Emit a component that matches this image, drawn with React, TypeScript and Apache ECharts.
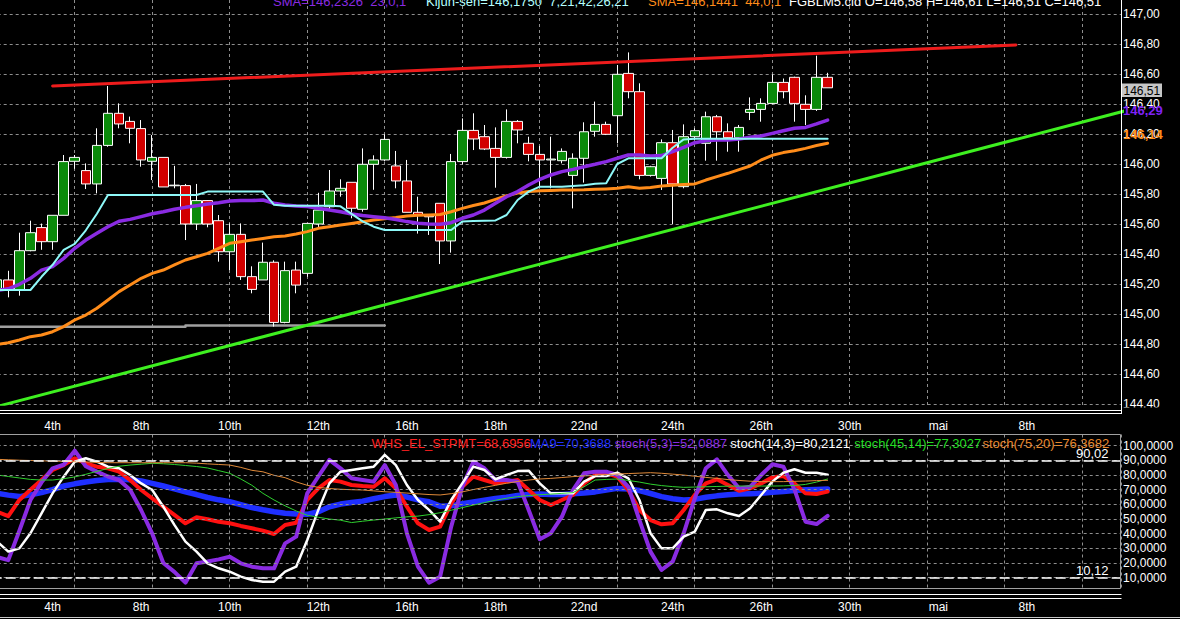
import React, { useEffect, useRef } from "react";
import * as echarts from "echarts";

// ---------------- data ----------------
const categoryCount = 102;
const dateLabelIndex = [5, 13, 21, 29, 37, 45, 53, 61, 69, 77, 85, 93];
const dateLabels = ["4th", "8th", "10th", "12th", "16th", "18th", "22nd", "24th", "26th", "30th", "mai", "8th"];

const opens = [
  145.17, 145.229, 145.162, 145.424, 145.578, 145.484, 145.66, 146.02, 145.958, 145.869,
  146.126, 146.34, 146.286, 146.238, 146.02, 146.046, 145.857, 145.858, 145.602, 145.758,
  145.624, 145.417, 145.533, 145.251, 145.229, 145.347, 144.946, 145.295, 145.273, 145.602,
  145.717, 145.822, 145.88, 145.7, 146.0, 146.029, 145.989, 145.889, 145.68, 145.655,
  145.74, 145.489, 146.018, 146.226, 146.184, 146.106, 146.046, 146.286, 146.14, 146.066,
  146.029, 146.024, 145.926, 146.04, 146.22, 146.266, 146.324, 146.606, 146.484, 145.926,
  145.906, 146.144, 145.851, 146.184, 146.14, 146.317, 146.217, 146.177, 146.346, 146.366,
  146.406, 146.546, 146.58, 146.4, 146.366, 146.58,
];
const closes = [
  145.23, 145.162, 145.424, 145.544, 145.484, 145.66, 146.018, 146.046, 145.869, 146.126,
  146.34, 146.269, 146.24, 146.029, 146.046, 145.849, 145.861, 145.602, 145.758, 145.602,
  145.417, 145.533, 145.251, 145.166, 145.347, 144.946, 145.291, 145.195, 145.606, 145.695,
  145.822, 145.84, 145.707, 146.0, 146.029, 146.166, 145.889, 145.68, 145.662, 145.65,
  145.489, 146.018, 146.226, 146.169, 146.102, 146.046, 146.286, 146.229, 146.066, 146.029,
  146.035, 146.086, 146.04, 146.217, 146.266, 146.2, 146.6, 146.484, 145.926, 145.984,
  146.144, 145.869, 146.184, 146.224, 146.317, 146.217, 146.177, 146.246, 146.366, 146.406,
  146.546, 146.484, 146.406, 146.366, 146.58, 146.51,
];
const lows = [
  145.15, 145.113, 145.124, 145.42, 145.43, 145.43, 145.66, 145.97, 145.835, 145.806,
  146.117, 146.24, 146.14, 145.984, 145.895, 145.849, 145.84, 145.495, 145.562, 145.58,
  145.351, 145.295, 145.229, 145.14, 145.229, 144.918, 144.94, 145.14, 145.25, 145.58,
  145.7, 145.784, 145.64, 145.684, 145.83, 146.02, 145.84, 145.68, 145.538, 145.529,
  145.335, 145.411, 146.0, 146.095, 146.095, 145.844, 146.038, 146.14, 146.02, 145.851,
  145.84, 146.006, 145.706, 145.878, 146.184, 146.195, 146.14, 146.44, 145.9, 145.918,
  145.829, 145.602, 145.84, 146.162, 146.024, 146.024, 146.084, 146.084, 146.295, 146.284,
  146.4, 146.44, 146.284, 146.262, 146.356, 146.51,
];
const highs = [
  145.25, 145.29, 145.544, 145.624, 145.605, 145.66, 146.062, 146.062, 146.006, 146.24,
  146.522, 146.406, 146.318, 146.295, 146.195, 146.046, 145.99, 145.869, 145.869, 145.76,
  145.662, 145.606, 145.606, 145.32, 145.478, 145.36, 145.351, 145.351, 145.606, 145.81,
  145.962, 145.9, 145.88, 146.106, 146.06, 146.2, 146.089, 146.029, 145.784, 145.66,
  145.74, 146.069, 146.306, 146.34, 146.262, 146.246, 146.366, 146.295, 146.184, 146.122,
  146.184, 146.106, 146.073, 146.28, 146.418, 146.284, 146.662, 146.746, 146.54, 145.99,
  146.166, 146.229, 146.266, 146.24, 146.351, 146.329, 146.273, 146.262, 146.446, 146.44,
  146.6, 146.572, 146.584, 146.46, 146.724, 146.61,
];

const sma23 = [
  145.16, 145.17, 145.2, 145.24, 145.295, 145.318, 145.373, 145.44, 145.495, 145.54,
  145.584, 145.62, 145.633, 145.651, 145.67, 145.684, 145.7, 145.713, 145.724, 145.735,
  145.744, 145.755, 145.758, 145.758, 145.762, 145.74, 145.729, 145.722, 145.718, 145.707,
  145.695, 145.684, 145.669, 145.658, 145.651, 145.644, 145.632, 145.618, 145.607, 145.602,
  145.6, 145.611, 145.64, 145.662, 145.695, 145.74, 145.784, 145.818, 145.862, 145.9,
  145.929, 145.951, 145.966, 145.984, 146.0, 146.018, 146.04, 146.062, 146.062, 146.055,
  146.058, 146.084, 146.113, 146.144, 146.157, 146.162, 146.162, 146.169, 146.18, 146.189,
  146.206, 146.224, 146.24, 146.246, 146.269, 146.295,
];
const kijun = [
  145.162, 145.162, 145.162, 145.162, 145.25, 145.33, 145.43, 145.47, 145.56, 145.67,
  145.795, 145.795, 145.795, 145.795, 145.795, 145.795, 145.795, 145.795, 145.795, 145.818,
  145.818, 145.818, 145.818, 145.818, 145.818, 145.73, 145.724, 145.724, 145.724, 145.724,
  145.724, 145.72, 145.67, 145.62, 145.584, 145.562, 145.562, 145.562, 145.562, 145.562,
  145.562, 145.562, 145.618, 145.622, 145.624, 145.626, 145.662, 145.762, 145.818, 145.851,
  145.851, 145.851, 145.855, 145.86, 145.87, 145.873, 146.002, 146.04, 146.04, 146.04,
  146.04, 146.11, 146.166, 146.171, 146.171, 146.171, 146.171, 146.171, 146.171, 146.171,
  146.171, 146.171, 146.171, 146.171, 146.171, 146.171,
];
const sma44 = [
  144.8, 144.81, 144.829, 144.851, 144.862, 144.884, 144.918, 144.962, 144.995, 145.04,
  145.095, 145.151, 145.195, 145.24, 145.273, 145.295, 145.329, 145.362, 145.384, 145.406,
  145.44, 145.473, 145.484, 145.495, 145.506, 145.517, 145.522, 145.535, 145.551, 145.573,
  145.584, 145.595, 145.606, 145.617, 145.629, 145.637, 145.645, 145.655, 145.66, 145.662,
  145.665, 145.684, 145.706, 145.725, 145.742, 145.766, 145.79, 145.808, 145.818, 145.824,
  145.826, 145.828, 145.829, 145.83, 145.833, 145.836, 145.84, 145.851, 145.84, 145.845,
  145.855, 145.86, 145.865, 145.869, 145.895, 145.918, 145.94, 145.965, 145.989, 146.029,
  146.06, 146.078, 146.09, 146.106, 146.125, 146.14,
];
const resistanceLine = [[5, 146.522], [92, 146.795]];
const supportLine = [[0, 144.386], [102, 146.359]];
const grayLevel = [[0, 144.917], [17, 144.917], [17, 144.926], [35, 144.926]];

const whs = [
  55, 52, 63, 70, 76.6, 83.4, 86.8, 91.4, 88, 85.7,
  84.6, 82.3, 76.6, 69.8, 64.1, 58.4, 52.8, 47.1, 51.2, 49.8,
  48.2, 47.1, 45.3, 43.7, 42.1, 39.8, 45.9, 47.5, 63, 70.9,
  76.6, 75.5, 73.2, 72.5, 72, 77.8, 70.9, 58.4, 47.1, 42.5,
  44.8, 60.7, 72, 78.9, 76.6, 74.3, 75.5, 76.6, 69.8, 63,
  59.6, 63, 66.4, 74.3, 80, 81.2, 78.9, 69.8, 56.2, 49.3,
  46.4, 47.1, 56.2, 66.4, 74.3, 77.1, 73.2, 69.3, 70.9, 74.3,
  78.4, 79.3, 74.3, 67.5, 67.1, 68.7,
];
const ma9 = [
  67.6, 66.3, 65.3, 66.5, 68, 70, 72.5, 74, 75.3, 76.3,
  77, 77.1, 76.8, 76, 74.3, 72.5, 70.5, 68.5, 66.7, 64.7,
  63.1, 61.8, 59.8, 57.8, 56.3, 55, 54, 53.5, 53.2, 55,
  58.4, 60.2, 61.3, 62.2, 63.8, 65.3, 66.4, 65, 63, 61.8,
  58.8, 59, 60.5, 61.7, 62.8, 64, 64.9, 66, 66.8, 67,
  66.8, 66.8, 67.2, 67.7, 68.5, 69.8, 70.9, 70.5, 69.4, 67.4,
  65.3, 63.8, 63, 63.4, 64.8, 65.8, 66.5, 67, 67.3, 67.5,
  68.2, 68.8, 69.4, 69.9, 70.2, 70.4,
];
const stoch53 = [
  24, 22, 42, 63, 75, 84.6, 87, 96.6, 86, 82.3,
  79, 76.6, 70, 56, 40, 20, 14, 6.6, 19.8, 21,
  22.5, 24.3, 19.8, 17.5, 16.4, 16.4, 33.4, 38, 67.5, 79,
  90.3, 84.6, 77.8, 76.6, 75.5, 86.8, 73.2, 40.3, 17.5, 6.6,
  10.7, 44.8, 72, 89.1, 84.6, 76.6, 76.6, 75.5, 56.2, 36.2,
  40.3, 51.6, 69.8, 81.2, 82.3, 82.3, 80, 72, 49.3, 27.8,
  15.3, 20.9, 40.3, 64.1, 84.6, 90.7, 80, 70.9, 72, 80,
  87.3, 85.7, 70.2, 48.2, 46.6, 52.1,
];
const stoch143 = [
  34.6, 27.8, 30, 40.3, 53.9, 67.5, 78.9, 89.1, 91.4, 89.1,
  85.7, 84.6, 80, 74.3, 69.8, 58.4, 46, 34.6, 27.8, 19.8,
  16.4, 14.1, 10.7, 8.4, 7.3, 7.3, 14.1, 17.5, 35.7, 56.2,
  74.3, 82.3, 83.4, 84.6, 85.7, 93.7, 86.8, 73.2, 63, 56.2,
  48.2, 63, 74.3, 85.7, 83.4, 77.1, 80, 82.7, 83, 74.3,
  67.5, 67.5, 67.5, 75.5, 79.3, 79.3, 81.6, 77.8, 63, 40.3,
  30, 30, 38, 41.4, 56.2, 56.6, 53.9, 52.1, 57.3, 66.4,
  75.5, 81.6, 83.9, 81.6, 81.6, 80.2,
];
const stoch4514 = [
  80, 79, 78, 77, 76.6, 76.6, 77.5, 78.7, 80.5, 82.5,
  84.5, 86, 86.8, 87.4, 88, 87.7, 87.2, 86.5, 85.8, 84.8,
  83, 81.2, 77.3, 73, 67.5, 63, 59, 55.5, 52.6, 51.2,
  50, 49.2, 47.6, 48.5, 49.3, 50, 50.8, 51.5, 52, 53,
  54.3, 56, 57.8, 59.5, 61.2, 62.8, 64.2, 65.3, 66, 66.6,
  67, 67.5, 68, 72, 76.6, 77, 77.3, 76.3, 75.2, 73.8,
  72.8, 72.1, 71.6, 71.8, 72, 72.2, 72.4, 72.5, 72.5, 72.5,
  72.5, 72.6, 72.9, 73.6, 75.2, 77.3,
];
const stoch7520 = [
  90.7, 90.4, 90.1, 89.9, 89.7, 89.5, 89.3, 89.1, 88.9, 88.6,
  88.4, 88.4, 88.4, 88.4, 88.4, 88.4, 88.4, 88.4, 88.1, 87.6,
  87.2, 86.8, 85.2, 83.2, 82.2, 79.8, 78.2, 75.3, 73, 71.6,
  70.8, 70.3, 70, 69.8, 69.2, 68.6, 68.2, 67.7, 67.2, 66.7,
  66.4, 67.3, 68.5, 70.1, 71.6, 73, 74.4, 75.6, 76.6, 77.3,
  77.7, 78.3, 78.9, 79.4, 79.8, 80.3, 80.7, 81, 81.3, 81.6,
  81.2, 80.6, 80, 79.2, 78.4, 77.7, 76.9, 76.3, 75.8, 75.5,
  75.5, 75.5, 75.7, 75.9, 76.2, 76.4,
];
const oscGridLevels = [10, 20, 30, 40, 50, 60, 70, 80, 90, 100];
const oscBands = [90.02, 10.12];
const oscBandLabels = ["90,02", "10,12"];

const topLegendTexts = [
  "SMA=146,2326  23,0,1",
  "Kijun-sen=146,1750  7,21,42,26,21",
  "SMA=146,1441  44,0,1",
  "FGBLM5.cld O=146,58 H=146,61 L=146,51 C=146,51",
];
const oscLegendTexts = [
  "WHS_EL_STPMT=68,6956",
  "MA9=70,3688",
  "stoch(5,3)=52,0887",
  "stoch(14,3)=80,2121",
  "stoch(45,14)=77,3027",
  "stoch(75,20)=76,3682",
];
const lastCloseTag = "146,51";
const sma23Tag = "146,29";
const sma44Tag = "146,14";

// ---------------- layout & style ----------------
const FONT = '"Liberation Sans", Arial, sans-serif';
const CAT_W = 11.072;
const PLOT_L = -8.3;
const PLOT_W = categoryCount * CAT_W;
const PLOT_R = 1121;
const VG_L = PLOT_L - 6.5 * CAT_W;
const VG_W = PLOT_R - VG_L;

const C_GRID = "#8e8e8e";
const C_UP = "#0a8a0a";
const C_DN = "#d20000";
const C_PURPLE = "#8a2be2";
const C_CYAN = "#8ef8f8";
const C_ORANGE = "#ff8c1a";

const topLegendColors = [C_PURPLE, "#b4ffff", C_ORANGE, "#ffffff"];
const topLegendX = [273, 426, 648, 789];
const oscLegendColors = ["#ff2020", "#2030ff", C_PURPLE, "#ffffff", "#22dd22", "#e8892e"];
const oscLegendX = [371.5, 530, 614.7, 730.3, 854.3, 982.4];

const categories = Array.from({ length: categoryCount }, (_, i) => String(i));

function dateLabelFormatter(_v: string, index: number) {
  const k = dateLabelIndex.indexOf(index);
  return k >= 0 ? dateLabels[k] : "";
}

function lineSeries(data: any, color: string, width: number, axis: number, z = 3) {
  return {
    type: "line",
    xAxisIndex: axis,
    yAxisIndex: axis,
    data,
    symbol: "none",
    silent: true,
    z,
    lineStyle: { color, width, join: "round", cap: "round" },
  };
}

function buildOption() {
  const candleData = opens.map((o, i) => [o, closes[i], lows[i], highs[i]]);
  const dashed = { color: C_GRID, width: 1, type: [3, 3] };

  const graphics: any[] = [];
  const hLine = (x1: number, x2: number, y: number, stroke: string, w = 1) =>
    graphics.push({ type: "line", z: 100, silent: true, shape: { x1, y1: y, x2, y2: y }, style: { stroke, lineWidth: w } });
  const text = (x: number, y: number, t: string, fill: string, size = 13, weight = "normal", align = "left") =>
    graphics.push({
      type: "text", z: 110, silent: true, x, y,
      style: { text: t, fill, fontSize: size, fontFamily: FONT, fontWeight: weight, align, verticalAlign: "middle" },
    });

  graphics.push({ type: "rect", z: 99, silent: true, shape: { x: 1122, y: 407.5, width: 58, height: 11 }, style: { fill: "#000" } });
  graphics.push({ type: "line", z: 100, silent: true, shape: { x1: 1121.5, y1: 0, x2: 1121.5, y2: 414 }, style: { stroke: "#fff", lineWidth: 1 } });
  hLine(0, 1121.5, 410.5, "#fff");
  hLine(0, 1121.5, 413.5, "#fff");
  graphics.push({ type: "rect", z: 100, silent: true, shape: { x: -2, y: 434.5, width: 1122.5, height: 154 }, style: { fill: "none", stroke: "#a0a0a0", lineWidth: 1 } });
  hLine(0, 1121.5, 594.5, "#fff");
  hLine(0, 1121.5, 598.5, "#fff");
  hLine(0, 1180, 617.5, "#c8c8c8");

  graphics.push({ type: "rect", z: 105, silent: true, shape: { x: 1122, y: 83.5, width: 40, height: 13.5 }, style: { fill: "#c6c6c6" } });
  text(1123.5, 90.5, lastCloseTag, "#000", 12);
  text(1123, 110, sma23Tag, "#7f22f5", 13, "bold");
  text(1123, 134, sma44Tag, C_ORANGE, 13, "bold");

  topLegendTexts.forEach((t, i) => text(topLegendX[i], 1, t, topLegendColors[i], 13));
  oscLegendTexts.forEach((t, i) => text(oscLegendX[i], 443.5, t, oscLegendColors[i], 13));
  oscBandLabels.forEach((t, i) => text(1108.5, i === 0 ? 453.5 : 570.8, t, "#fff", 13, "normal", "right"));

  const gridBase = { containLabel: false, outerBoundsMode: "none" };

  return {
    animation: false,
    backgroundColor: "#000",
    textStyle: { fontFamily: FONT },
    grid: [
      { ...gridBase, left: PLOT_L, top: -15.7, width: PLOT_W, height: 420 },
      { ...gridBase, left: VG_L, top: 0, width: VG_W, height: 405 },
      { ...gridBase, left: PLOT_L, top: 431.03, width: PLOT_W, height: 161.34 },
      { ...gridBase, left: VG_L, top: 434.5, width: VG_W, height: 154 },
    ],
    xAxis: [
      {
        type: "category", gridIndex: 0, data: categories, boundaryGap: true,
        axisLine: { show: false }, axisTick: { show: false }, splitLine: { show: false },
        axisLabel: {
          interval: (index: number) => dateLabelIndex.includes(index),
          formatter: dateLabelFormatter, color: "#fff", fontSize: 12, lineHeight: 12, margin: 15.7, fontFamily: FONT,
        },
      },
      {
        type: "value", gridIndex: 1, min: -7, max: 101.5, interval: 7,
        axisLine: { show: false }, axisTick: { show: false }, axisLabel: { show: false },
        splitLine: { show: true, lineStyle: dashed },
      },
      {
        type: "category", gridIndex: 2, data: categories, boundaryGap: true,
        axisLine: { show: false }, axisTick: { show: false }, splitLine: { show: false },
        axisLabel: {
          interval: (index: number) => dateLabelIndex.includes(index),
          formatter: dateLabelFormatter, color: "#fff", fontSize: 12, lineHeight: 12, margin: 8.3, fontFamily: FONT,
        },
      },
      {
        type: "value", gridIndex: 3, min: -7, max: 101.5, interval: 7,
        axisLine: { show: false }, axisTick: { show: false }, axisLabel: { show: false },
        splitLine: { show: true, lineStyle: dashed },
      },
    ],
    yAxis: [
      {
        type: "value", gridIndex: 0, position: "right", min: 144.4, max: 147.2, interval: 0.2,
        axisLine: { show: false }, axisTick: { show: false },
        splitLine: { show: true, lineStyle: dashed },
        axisLabel: {
          color: "#fff", fontSize: 12, margin: 2, fontFamily: FONT,
          formatter: (v: number) => v.toFixed(2).replace(".", ","),
        },
      },
      { type: "value", gridIndex: 1, min: 0, max: 1, show: false },
      {
        type: "value", gridIndex: 2, position: "right", min: 0, max: 110, interval: 10,
        axisLine: { show: false }, axisTick: { show: false }, splitLine: { show: false },
        axisLabel: {
          color: "#fff", fontSize: 12, margin: 2, fontFamily: FONT,
          formatter: (v: number) => (v >= 10 && v <= 100 ? v.toFixed(4).replace(".", ",") : ""),
        },
      },
      { type: "value", gridIndex: 3, min: 0, max: 1, show: false },
    ],
    series: [
      lineSeries(grayLevel, "#a0a0a0", 2.5, 0, 2),
      {
        type: "candlestick", xAxisIndex: 0, yAxisIndex: 0, data: candleData, barWidth: 10, silent: true, z: 2,
        itemStyle: { color: C_UP, color0: C_DN, borderColor: "#ffffff", borderColor0: "#ffffff", borderColorDoji: "#ffffff", borderWidth: 1 },
      },
      lineSeries(sma44, C_ORANGE, 3, 0),
      lineSeries(sma23, C_PURPLE, 3.5, 0),
      lineSeries(kijun, C_CYAN, 2, 0),
      lineSeries(resistanceLine, "#ee1c1c", 3, 0, 4),
      lineSeries(supportLine, "#3ef020", 3, 0, 4),
      {
        type: "line", xAxisIndex: 2, yAxisIndex: 2, data: [], symbol: "none", silent: true, z: 1,
        markLine: {
          silent: true, symbol: "none", label: { show: false },
          data: [
            ...oscGridLevels.map((v) => ({ yAxis: v, lineStyle: { color: C_GRID, width: 1, type: [3, 3] } })),
            ...oscBands.map((v) => ({ yAxis: v, lineStyle: { color: "#ffffff", width: 1.5, type: [10, 4] } })),
          ],
        },
      },
      lineSeries(ma9, "#1f2fff", 5.5, 2),
      lineSeries(whs, "#ff1010", 4, 2),
      lineSeries(stoch53, C_PURPLE, 4, 2),
      lineSeries(stoch143, "#ffffff", 2.5, 2),
      lineSeries(stoch4514, "#2fcf2f", 1, 2),
      lineSeries(stoch7520, "#e08a3a", 1, 2),
    ],
    graphic: { elements: graphics },
  };
}

export default function App() {
  const ref = useRef<HTMLDivElement>(null);
  useEffect(() => {
    document.body.style.margin = "0";
    document.body.style.background = "#000";
    if (!ref.current) return;
    const chart = echarts.init(ref.current, null, { renderer: "svg" });
    chart.setOption(buildOption() as any);
    return () => chart.dispose();
  }, []);
  return (
    <div
      ref={ref}
      style={{ position: "fixed", left: 0, top: 0, width: 1180, height: 619, background: "#000" }}
    />
  );
}
